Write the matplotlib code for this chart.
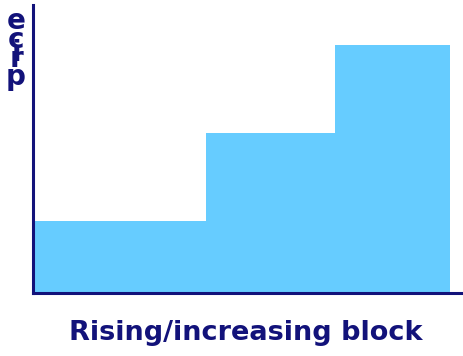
import matplotlib
matplotlib.use("Agg")
import matplotlib.pyplot as plt
import numpy as np

# block tariff: quantity thresholds and price per block
block_edges = [0.0, 4.0, 7.0, 9.7]
block_prices = [2.5, 5.55, 8.6]
axis_label = "price"
title_text = "Rising/increasing block"

navy = "#12127a"
fill = "#66ccff"

fig = plt.figure(figsize=(4.63, 3.56), dpi=100)
ax = fig.add_axes([33 / 463, 63 / 356, 430 / 463, 288 / 356])

starts = np.array(block_edges[:-1])
widths = np.diff(block_edges)
ax.bar(starts, block_prices, width=widths, align="edge", color=fill, linewidth=0)

ax.set_xlim(-0.05, 10)
ax.set_ylim(0, 10)
ax.set_xticks([])
ax.set_yticks([])
for side in ["top", "right"]:
    ax.spines[side].set_visible(False)
for side in ["left", "bottom"]:
    ax.spines[side].set_color(navy)
    ax.spines[side].set_linewidth(2.2)

# axis label drawn as stacked letters, first letter at the bottom
letter_y = [77, 59, 53, 40, 21]
for ch, y in zip(axis_label, letter_y):
    fig.text(16 / 463, 1 - y / 356, ch, color=navy, fontsize=20, fontweight="bold",
             ha="center", va="center")

fig.text(246 / 463, 1 - 333 / 356, title_text, color=navy, fontsize=19.5,
         fontweight="bold", ha="center", va="center")

fig.savefig("out.png", dpi=100)
